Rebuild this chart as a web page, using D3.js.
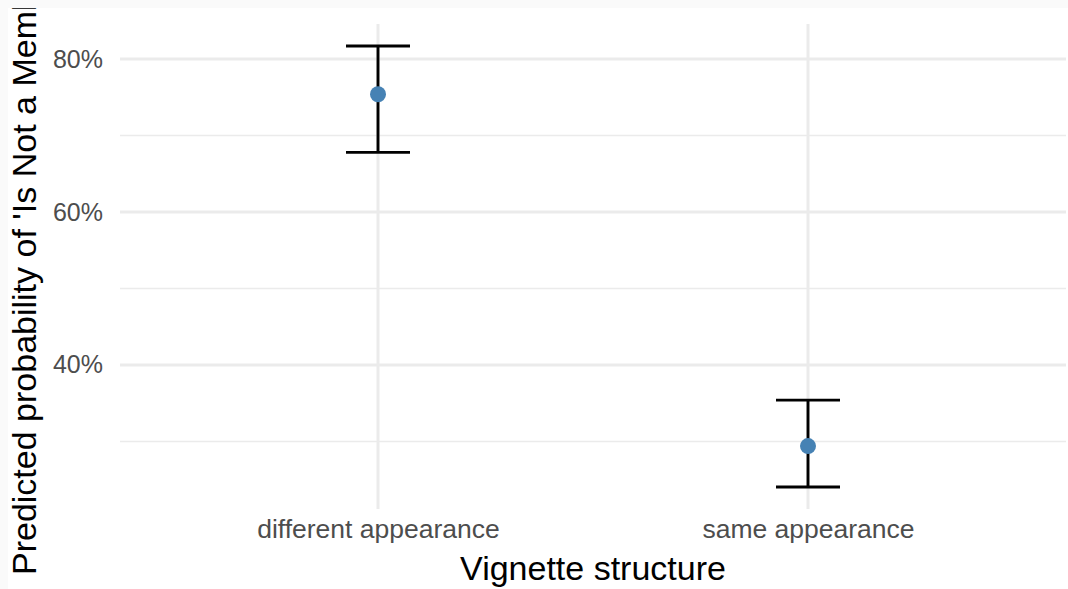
<!DOCTYPE html>
<html>
<head>
<meta charset="utf-8">
<script src="https://cdn.jsdelivr.net/npm/d3@7"></script>
<style>
  body { margin: 0; background: #fafafa; }
  svg { display: block; font-family: "Liberation Sans", Arial, sans-serif; }
</style>
</head>
<body>
<svg id="chart"></svg>
<script>
const categories = ['different appearance', 'same appearance']
const estimate = [0.754, 0.294]
const lower = [0.678, 0.2405]
const upper = [0.817, 0.354]
const yTicks = [0.4, 0.6, 0.8]
const yMinor = [0.3, 0.5, 0.7]

let width = 1068,
	height = 589,
	margin = {top: 24, right: 2, bottom: 80, left: 120}

let svg = d3.select('svg#chart')
	.attr('width', width)
	.attr('height', height)

// light frame round the plot
svg.append('rect').attr('width', width).attr('height', height).attr('fill', '#fafafa')
svg.append('rect').attr('x', 8).attr('y', 8)
	.attr('width', width - 8).attr('height', height - 8).attr('fill', '#fff')

let x = d3.scalePoint()
	.domain(categories)
	.range([margin.left, width - margin.right])
	.padding(0.6)

let lo = d3.min(lower), hi = d3.max(upper), pad = (hi - lo) * 0.05
let y = d3.scaleLinear()
	.domain([lo - pad, hi + pad])
	.range([height - margin.bottom, margin.top])

let grid = svg.append('g')
grid.selectAll('line.minor').data(yMinor).enter().append('line')
	.attr('x1', margin.left).attr('x2', width - margin.right)
	.attr('y1', d => y(d)).attr('y2', d => y(d))
	.attr('stroke', '#ebebeb').attr('stroke-width', 1.5)
grid.selectAll('line.major').data(yTicks).enter().append('line')
	.attr('x1', margin.left).attr('x2', width - margin.right)
	.attr('y1', d => y(d)).attr('y2', d => y(d))
	.attr('stroke', '#ebebeb').attr('stroke-width', 3)
grid.selectAll('line.vert').data(categories).enter().append('line')
	.attr('x1', d => x(d)).attr('x2', d => x(d))
	.attr('y1', y.range()[1]).attr('y2', y.range()[0])
	.attr('stroke', '#ebebeb').attr('stroke-width', 3)

// axes (text only, ggplot minimal style)
let yAxis = svg.append('g')
	.attr('transform', `translate(${margin.left},0)`)
	.call(d3.axisLeft(y).tickValues(yTicks).tickFormat(d3.format('.0%')).tickSize(0).tickPadding(17))
yAxis.select('.domain').remove()
yAxis.selectAll('text').attr('font-size', 25).attr('fill', '#4d4d4d')
	.attr('font-family', '"Liberation Sans", Arial, sans-serif')

let xAxis = svg.append('g')
	.attr('transform', `translate(0,${height - margin.bottom})`)
	.call(d3.axisBottom(x).tickSize(0).tickPadding(10))
xAxis.select('.domain').remove()
xAxis.selectAll('text').attr('font-size', 26.5).attr('fill', '#4d4d4d')
	.attr('font-family', '"Liberation Sans", Arial, sans-serif')

// error bars
let rows = categories.map((c, i) => ({c: c, est: estimate[i], lo: lower[i], hi: upper[i]}))
let bars = svg.append('g').attr('stroke', '#000').attr('stroke-width', 2.9)
bars.selectAll('line.v').data(rows).enter().append('line')
	.attr('x1', d => x(d.c)).attr('x2', d => x(d.c))
	.attr('y1', d => y(d.lo)).attr('y2', d => y(d.hi))
bars.selectAll('line.top').data(rows).enter().append('line')
	.attr('x1', d => x(d.c) - 32).attr('x2', d => x(d.c) + 32)
	.attr('y1', d => y(d.hi)).attr('y2', d => y(d.hi))
bars.selectAll('line.bot').data(rows).enter().append('line')
	.attr('x1', d => x(d.c) - 32).attr('x2', d => x(d.c) + 32)
	.attr('y1', d => y(d.lo)).attr('y2', d => y(d.lo))

svg.append('g').selectAll('circle').data(rows).enter().append('circle')
	.attr('cx', d => x(d.c)).attr('cy', d => y(d.est))
	.attr('r', 8).attr('fill', 'steelblue')

// titles
svg.append('text')
	.attr('x', (margin.left + width - margin.right) / 2).attr('y', 580)
	.attr('text-anchor', 'middle').attr('font-size', 34).attr('fill', '#000')
	.text('Vignette structure')

svg.append('defs').append('clipPath').attr('id', 'clipTop')
	.append('rect').attr('x', 0).attr('y', 8).attr('width', width).attr('height', height)
svg.append('g').attr('clip-path', 'url(#clipTop)')
	.append('text')
	.attr('transform', 'translate(36,575) rotate(-90)')
	.attr('font-size', 34).attr('fill', '#000')
	.text("Predicted probability of 'Is Not a Member'")
</script>
</body>
</html>
